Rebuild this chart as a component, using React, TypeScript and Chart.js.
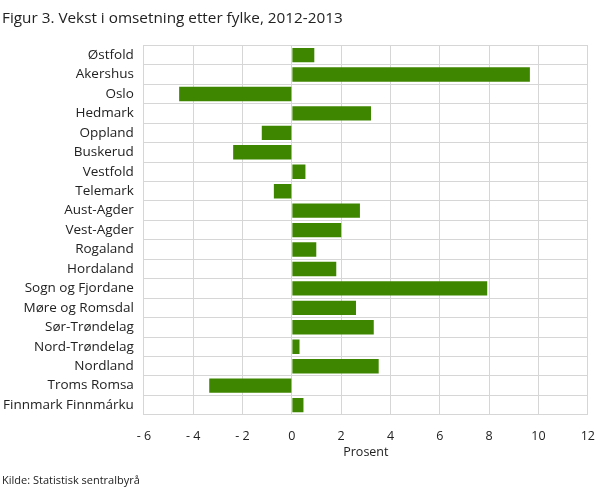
import { useEffect, useRef } from "react";
import { Chart, registerables } from "chart.js";

Chart.register(...registerables);

const fylker = [
  "Østfold",
  "Akershus",
  "Oslo",
  "Hedmark",
  "Oppland",
  "Buskerud",
  "Vestfold",
  "Telemark",
  "Aust-Agder",
  "Vest-Agder",
  "Rogaland",
  "Hordaland",
  "Sogn og Fjordane",
  "Møre og Romsdal",
  "Sør-Trøndelag",
  "Nord-Trøndelag",
  "Nordland",
  "Troms Romsa",
  "Finnmark Finnmárku",
];

// vekst i omsetning, prosent
const vekst = [
  0.91, 9.65, -4.57, 3.21, -1.22, -2.38, 0.55, -0.73, 2.76, 2.0, 0.99, 1.8,
  7.92, 2.6, 3.32, 0.31, 3.52, -3.35, 0.47,
];

const xMin = -6;
const xMax = 12;
const xStep = 2;

const fontFamily = "'Open Sans', sans-serif";

export default function App() {
  const canvasRef = useRef<HTMLCanvasElement | null>(null);
  const chartRef = useRef<Chart | null>(null);

  useEffect(() => {
    if (chartRef.current) {
      chartRef.current.destroy();
    }
    const ctx = canvasRef.current!.getContext("2d")!;

    chartRef.current = new Chart(ctx, {
      type: "bar",
      data: {
        labels: fylker,
        datasets: [
          {
            label: "Vekst",
            data: vekst,
            backgroundColor: "#3f8600",
            borderWidth: 0,
            categoryPercentage: 0.74,
            barPercentage: 1,
          },
        ],
      },
      options: {
        indexAxis: "y",
        animation: false,
        responsive: false,
        maintainAspectRatio: false,
        layout: { padding: { left: 2, right: 10, top: 0, bottom: 2 } },
        plugins: {
          legend: { display: false },
          tooltip: { enabled: false },
          title: {
            display: true,
            text: "Figur 3. Vekst i omsetning etter fylke, 2012-2013",
            align: "start",
            color: "#222",
            font: { family: fontFamily, size: 15.3, weight: "normal" },
            padding: { top: 9, bottom: 18 },
          },
          subtitle: {
            display: true,
            position: "bottom",
            text: "Kilde: Statistisk sentralbyrå",
            align: "start",
            color: "#222",
            font: { family: fontFamily, size: 11 },
            padding: { top: 14, bottom: 0 },
          },
        },
        scales: {
          x: {
            min: xMin,
            max: xMax,
            ticks: {
              stepSize: xStep,
              color: "#222",
              font: { family: fontFamily, size: 12.5 },
              padding: 14,
              callback: (v) => {
                const n = Number(v);
                return n < 0 ? "- " + Math.abs(n) : String(n);
              },
            },
            grid: { color: "#d6d6d6", drawTicks: false, lineWidth: 1 },
            border: { display: true, color: "#d6d6d6" },
            title: {
              display: true,
              text: "Prosent",
              color: "#222",
              font: { family: fontFamily, size: 12.5 },
              padding: { top: -13, bottom: 0 },
            },
          },
          y: {
            afterFit: (scale) => {
              scale.width -= 9;
            },
            ticks: {
              color: "#222",
              font: { family: fontFamily, size: 13.5 },
              padding: 10,
              autoSkip: false,
            },
            grid: { color: "#d6d6d6", drawTicks: false, offset: true },
            border: { display: true, color: "#d6d6d6" },
          },
        },
      },
    });

    return () => {
      if (chartRef.current) {
        chartRef.current.destroy();
        chartRef.current = null;
      }
    };
  }, []);

  return (
    <div style={{ position: "absolute", left: 0, top: 0, width: 609, height: 489 }}>
      <canvas ref={canvasRef} width={609} height={489} />
    </div>
  );
}
